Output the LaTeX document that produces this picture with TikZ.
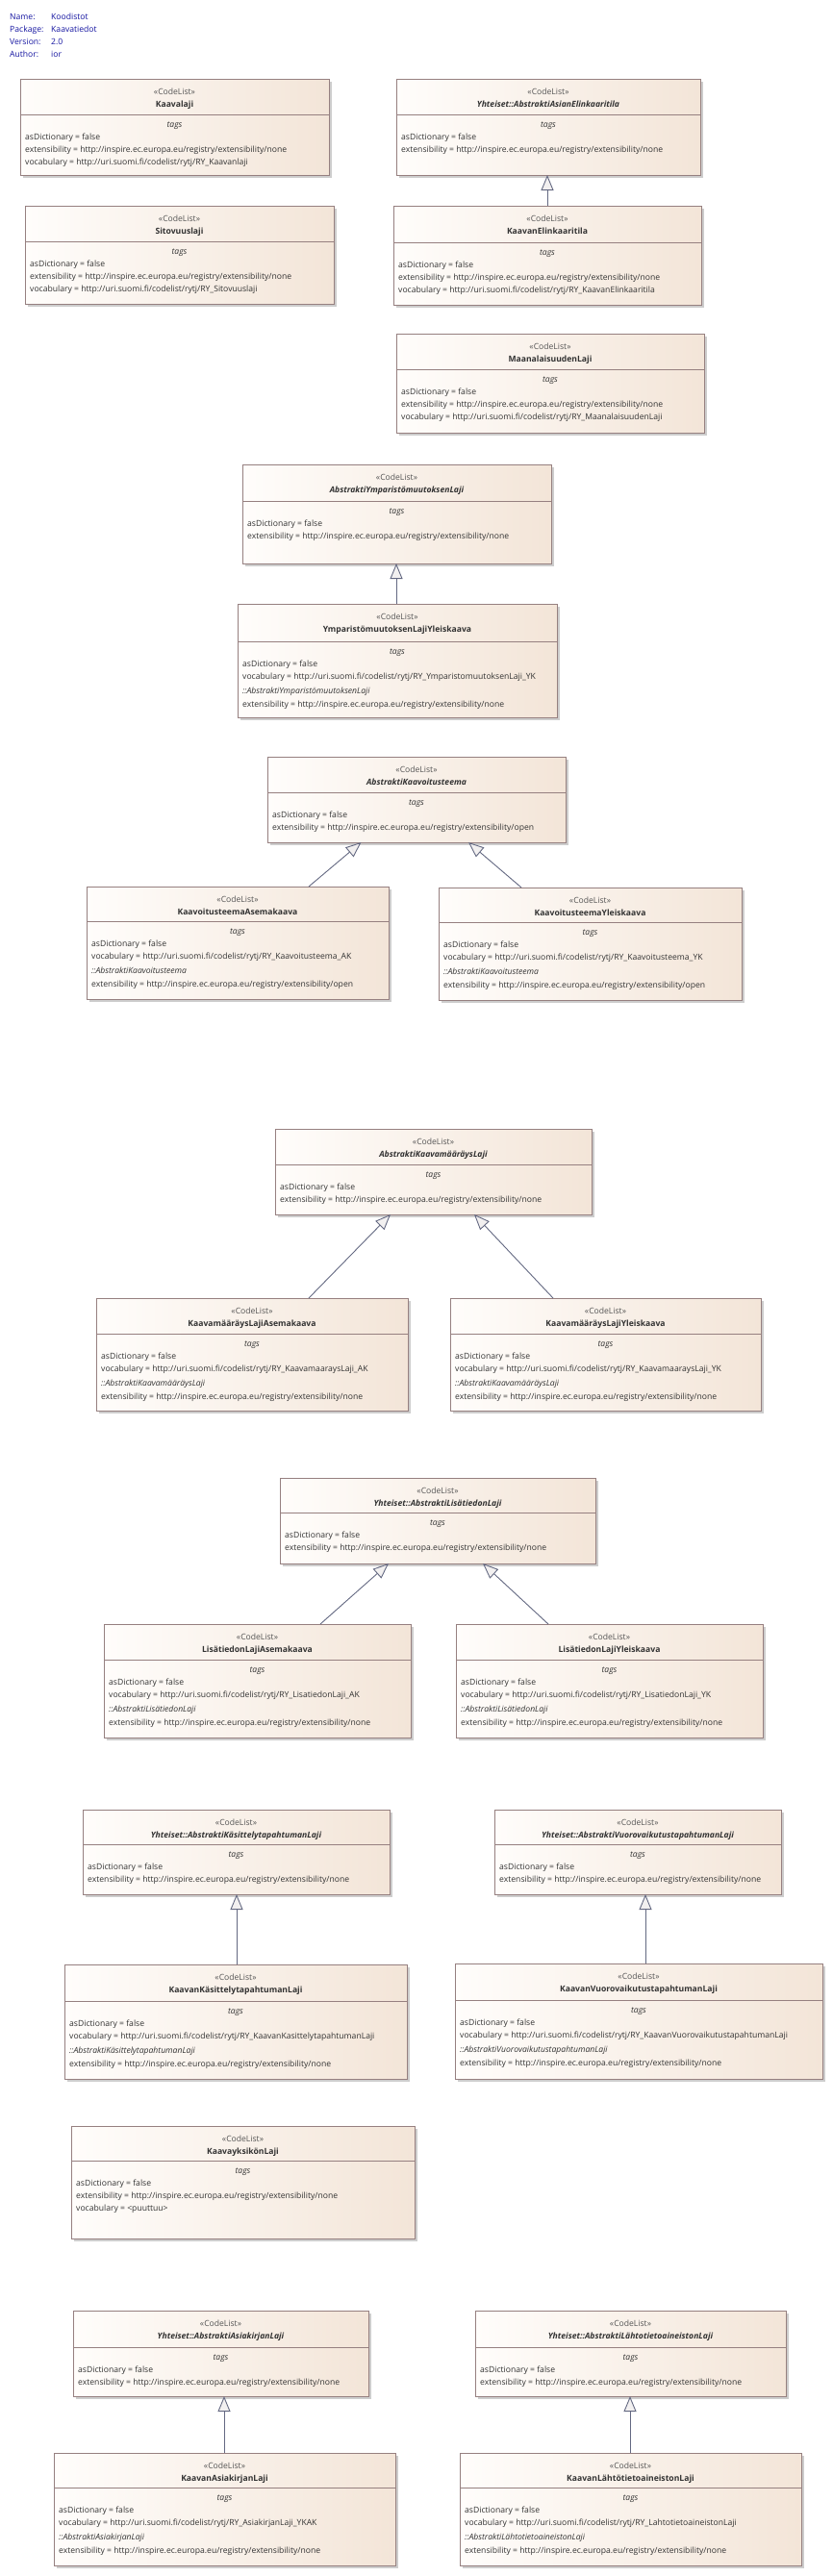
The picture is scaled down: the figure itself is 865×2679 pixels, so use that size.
\documentclass[tikz,border=0pt]{standalone}
\usepackage{fontspec}
\setmainfont{Open Sans}
\usetikzlibrary{arrows.meta,calc}
\definecolor{bord}{RGB}{150,128,128}
\definecolor{fillL}{RGB}{255,253,251}
\definecolor{fillR}{RGB}{243,229,216}
\definecolor{txtc}{RGB}{50,50,50}
\definecolor{stc}{RGB}{85,85,85}
\definecolor{conn}{RGB}{100,105,130}
\definecolor{hdr}{RGB}{20,20,160}
\definecolor{shd}{RGB}{205,205,205}
\definecolor{tipfill}{RGB}{242,240,240}
\tikzset{
 umlbox/.style={draw=bord, line width=0.9pt, left color=fillL, right color=fillR, inner sep=0pt, outer sep=0pt, anchor=north west},
 tt/.style={font=\fontsize{8.6}{13}\selectfont, text=txtc, inner sep=0pt, anchor=base},
 tl/.style={tt, anchor=base west},
 hd/.style={tt, anchor=base west, text=hdr},
 gen/.style={draw=conn, line width=0.9pt, -{Triangle[length=16pt,width=13pt,fill=tipfill]}},
}
\newcommand{\AsDict}{asDictionary = false}
\newcommand{\ExtNone}{extensibility = http://inspire.ec.europa.eu/registry/extensibility/none}
\newcommand{\ExtOpen}{extensibility = http://inspire.ec.europa.eu/registry/extensibility/open}
\newcommand{\Vocab}[1]{vocabulary = http://uri.suomi.fi/codelist/rytj/RY\_#1}
\newcommand{\umlbox}[7]{%
 \fill[shd] (#2+3,#3+3) rectangle (#4+3,#5+3);
 \node[umlbox, minimum width={(#4-#2)*1pt}, minimum height={(#5-#3)*1pt}] (#1) at (#2,#3) {};
 \draw[bord, line width=0.9pt] (#2,#6) -- (#4,#6);
 \node[tt, text=stc] at ({(#2+#4)/2}, #3+16.5) {«CodeList»};
 \node[tt] at ({(#2+#4)/2}, #3+29.5) {#7};
 \node[tt, font=\fontsize{8.6}{13}\selectfont\itshape] at ({(#2+#4)/2}, #6+13.5) {tags};
 \gdef\bx{#2}\gdef\bd{#6}%
}
\newcommand{\aline}[2]{\node[tl] at (\bx+5, \bd+#1) {#2};}
\newcommand{\twolines}[1]{\aline{26.5}{\AsDict}\aline{39.5}{#1}}
\newcommand{\threelines}[1]{\aline{26.5}{\AsDict}\aline{39.5}{\ExtNone}\aline{52.5}{#1}}
\newcommand{\fourlines}[3]{\aline{26.5}{\AsDict}\aline{39.5}{#1}\aline{54.5}{\itshape #2}\aline{68.5}{#3}}
\begin{document}
\begin{tikzpicture}[x=1pt,y=-1pt]
\useasboundingbox (0,0) rectangle (865,2679);
% header
\node[hd] (hn) at (10,20.5) {Name:};
\node[hd] (hnv) at (53,20.5) {Koodistot};
\node[hd] (hp) at (10,33.5) {Package:};
\node[hd] (hpv) at (53,33.5) {Kaavatiedot};
\node[hd] (hv) at (10,46.5) {Version:};
\node[hd] (hvv) at (53,46.5) {2.0};
\node[hd] (ha) at (10,59.5) {Author:};
\node[hd] (hav) at (53,59.5) {ior};

\umlbox{kaavalaji}{21}{82}{342}{182}{119}{\bfseries Kaavalaji}
\threelines{\Vocab{Kaavanlaji}}
\umlbox{sitovuus}{26}{214}{347}{316}{251}{\bfseries Sitovuuslaji}
\threelines{\Vocab{Sitovuuslaji}}
\umlbox{absElinkaari}{412}{82}{728}{182}{119}{\bfseries\itshape Yhteiset::AbstraktiAsianElinkaaritila}
\twolines{\ExtNone}
\umlbox{elinkaari}{409}{214}{729}{317}{252}{\bfseries KaavanElinkaaritila}
\threelines{\Vocab{KaavanElinkaaritila}}
\umlbox{maanalaisuus}{412}{347}{732}{450}{384}{\bfseries MaanalaisuudenLaji}
\threelines{\Vocab{MaanalaisuudenLaji}}

\umlbox{absYmp}{252}{483}{573}{586}{521}{\bfseries\itshape AbstraktiYmparistömuutoksenLaji}
\twolines{\ExtNone}
\umlbox{ympYK}{247}{628}{579}{746}{667}{\bfseries YmparistömuutoksenLajiYleiskaava}
\fourlines{\Vocab{YmparistomuutoksenLaji\_YK}}{::AbstraktiYmparistömuutoksenLaji}{\ExtNone}

\umlbox{absK}{278}{787}{588}{876}{824}{\bfseries\itshape AbstraktiKaavoitusteema}
\twolines{\ExtOpen}
\umlbox{kaavAK}{90}{922}{404}{1039}{958}{\bfseries KaavoitusteemaAsemakaava}
\fourlines{\Vocab{Kaavoitusteema\_AK}}{::AbstraktiKaavoitusteema}{\ExtOpen}
\umlbox{kaavYK}{456}{923}{771}{1040}{959}{\bfseries KaavoitusteemaYleiskaava}
\fourlines{\Vocab{Kaavoitusteema\_YK}}{::AbstraktiKaavoitusteema}{\ExtOpen}

\umlbox{absM}{286}{1174}{615}{1263}{1211}{\bfseries\itshape AbstraktiKaavamääräysLaji}
\twolines{\ExtNone}
\umlbox{maarAK}{100}{1350}{424}{1467}{1387}{\bfseries KaavamääräysLajiAsemakaava}
\fourlines{\Vocab{KaavamaaraysLaji\_AK}}{::AbstraktiKaavamääräysLaji}{\ExtNone}
\umlbox{maarYK}{468}{1350}{791}{1467}{1387}{\bfseries KaavamääräysLajiYleiskaava}
\fourlines{\Vocab{KaavamaaraysLaji\_YK}}{::AbstraktiKaavamääräysLaji}{\ExtNone}

\umlbox{absL}{291}{1537}{619}{1626}{1573}{\bfseries\itshape Yhteiset::AbstraktiLisätiedonLaji}
\twolines{\ExtNone}
\umlbox{lisAK}{108}{1689}{427}{1807}{1726}{\bfseries LisätiedonLajiAsemakaava}
\fourlines{\Vocab{LisatiedonLaji\_AK}}{::AbstraktiLisätiedonLaji}{\ExtNone}
\umlbox{lisYK}{474}{1689}{793}{1807}{1726}{\bfseries LisätiedonLajiYleiskaava}
\fourlines{\Vocab{LisatiedonLaji\_YK}}{::AbstraktiLisätiedonLaji}{\ExtNone}

\umlbox{absKas}{86}{1882}{405}{1970}{1918}{\bfseries\itshape Yhteiset::AbstraktiKäsittelytapahtumanLaji}
\twolines{\ExtNone}
\umlbox{kas}{67}{2043}{423}{2162}{2081}{\bfseries KaavanKäsittelytapahtumanLaji}
\fourlines{\Vocab{KaavanKasittelytapahtumanLaji}}{::AbstraktiKäsittelytapahtumanLaji}{\ExtNone}
\umlbox{absVuo}{514}{1882}{812}{1970}{1918}{\bfseries\itshape Yhteiset::AbstraktiVuorovaikutustapahtumanLaji}
\twolines{\ExtNone}
\umlbox{vuo}{473}{2042}{855}{2162}{2080}{\bfseries KaavanVuorovaikutustapahtumanLaji}
\fourlines{\Vocab{KaavanVuorovaikutustapahtumanLaji}}{::AbstraktiVuorovaikutustapahtumanLaji}{\ExtNone}

\umlbox{yksikko}{74}{2211}{431}{2328}{2247}{\bfseries KaavayksikönLaji}
\threelines{vocabulary = <puuttuu>}

\umlbox{absAsia}{76}{2403}{383}{2492}{2441}{\bfseries\itshape Yhteiset::AbstraktiAsiakirjanLaji}
\twolines{\ExtNone}
\umlbox{asia}{56}{2551}{411}{2668}{2587}{\bfseries KaavanAsiakirjanLaji}
\fourlines{\Vocab{AsiakirjanLaji\_YKAK}}{::AbstraktiAsiakirjanLaji}{\ExtNone}
\umlbox{absLahto}{494}{2403}{817}{2492}{2441}{\bfseries\itshape Yhteiset::AbstraktiLähtotietoaineistonLaji}
\twolines{\ExtNone}
\umlbox{lahto}{478}{2551}{833}{2668}{2587}{\bfseries KaavanLähtötietoaineistonLaji}
\fourlines{\Vocab{LahtotietoaineistonLaji}}{::AbstraktiLähtotietoaineistonLaji}{\ExtNone}

% generalizations
\draw[gen] ($(elinkaari.north west)+(160,0)$) -- ($(absElinkaari.south west)+(157,0)$);
\draw[gen] ($(ympYK.north west)+(165,0)$) -- ($(absYmp.south west)+(160,0)$);
\draw[gen] ($(kaavAK.north west)+(231,0)$) -- ($(absK.south west)+(97.5,0)$);
\draw[gen] ($(kaavYK.north west)+(86,0)$) -- ($(absK.south west)+(209,0)$);
\draw[gen] ($(maarAK.north west)+(221,0)$) -- ($(absM.south west)+(120,0)$);
\draw[gen] ($(maarYK.north west)+(107,0)$) -- ($(absM.south west)+(207,0)$);
\draw[gen] ($(lisAK.north west)+(225,0)$) -- ($(absL.south west)+(113,0)$);
\draw[gen] ($(lisYK.north west)+(96,0)$) -- ($(absL.south west)+(211,0)$);
\draw[gen] ($(kas.north west)+(179,0)$) -- ($(absKas.south west)+(160,0)$);
\draw[gen] ($(vuo.north west)+(198,0)$) -- ($(absVuo.south west)+(157,0)$);
\draw[gen] ($(asia.north west)+(177,0)$) -- ($(absAsia.south west)+(157,0)$);
\draw[gen] ($(lahto.north west)+(177,0)$) -- ($(absLahto.south west)+(161,0)$);
\end{tikzpicture}
\end{document}
